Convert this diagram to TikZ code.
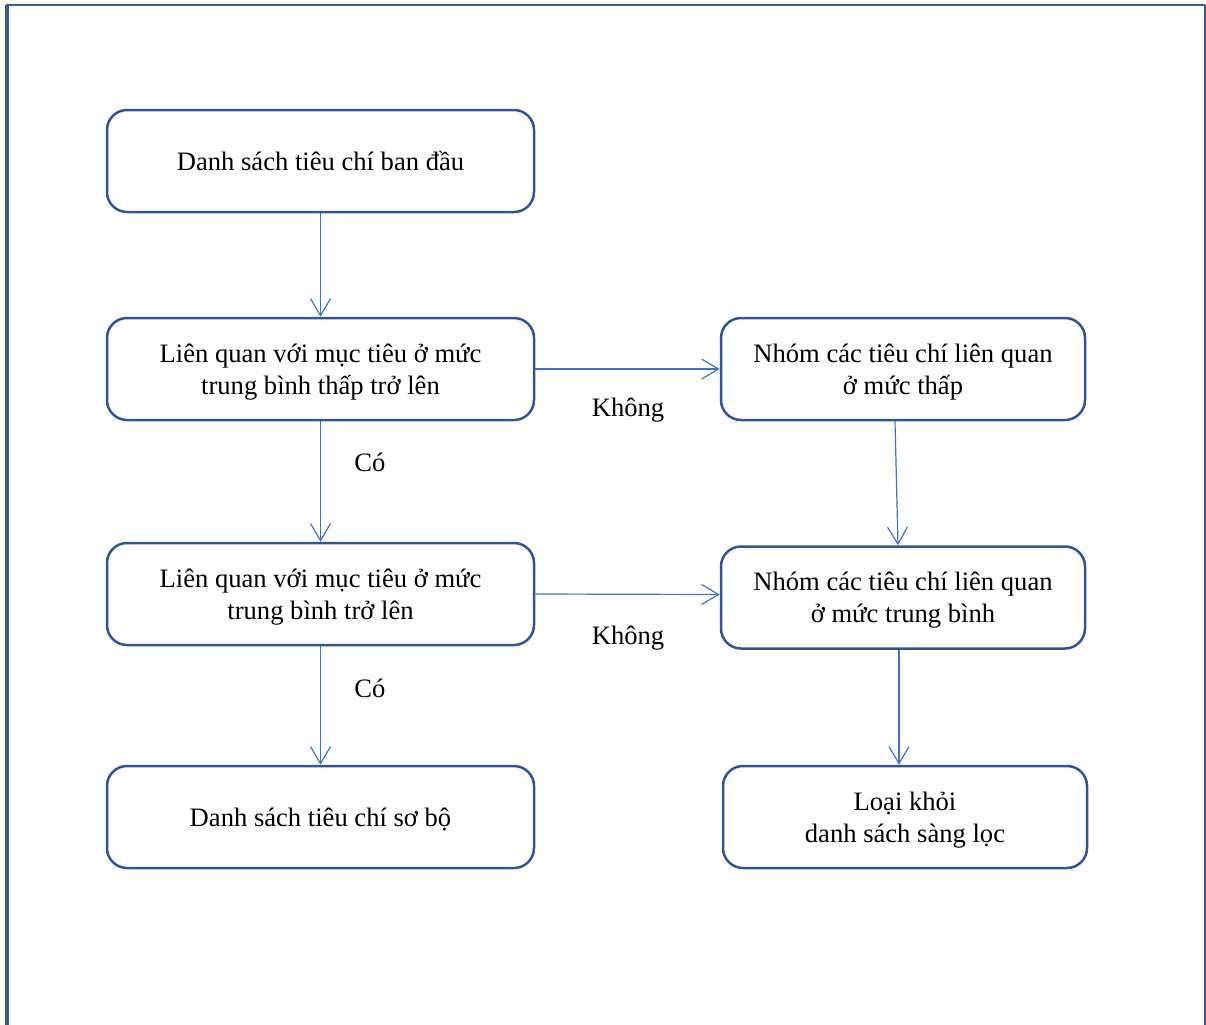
\documentclass[tikz,border=0pt]{standalone}
\usepackage{fontspec}
\setmainfont{Liberation Serif}
\usetikzlibrary{arrows.meta}
\definecolor{boxblue}{HTML}{2F5597}
\definecolor{arrblue}{HTML}{4472C4}
\definecolor{frameblue}{HTML}{3A5A95}
\newcommand\bt[1]{\raisebox{-1.4pt}[\height][\depth]{\begin{tabular}{@{}c@{}}#1\end{tabular}}}
\begin{document}
\begin{tikzpicture}[x=0.5pt,y=-0.5pt,
  box/.style={draw=boxblue,line width=1.25pt,rounded corners=10pt,
    minimum height=51pt,inner sep=2pt,
    font=\fontsize{13.3}{16}\selectfont},
  lbox/.style={box,minimum width=213.5pt},
  rbox/.style={box,minimum width=182pt},
  conn/.style={draw=arrblue,line width=0.6pt,-{Straight Barb[length=8.5pt,width=10pt,line width=0.6pt]}},
  lab/.style={font=\fontsize{13.3}{16}\selectfont,inner sep=0pt}]
\useasboundingbox (0,0) rectangle (1206,1024);
\draw[frameblue,line width=1.6pt] (7,1026) -- (7,4.5);
\draw[frameblue,line width=1.2pt] (6,5) -- (1205,5);
\draw[frameblue,line width=0.8pt] (1205,5) -- (1205,1026);
\node[lbox] (b1) at (320.5,161) {\bt{Danh sách tiêu chí ban đầu}};
\node[lbox] (b2) at (320.5,369) {\bt{Liên quan với mục tiêu ở mức\\trung bình thấp trở lên}};
\node[lbox] (b3) at (320.5,594) {\bt{Liên quan với mục tiêu ở mức\\trung bình trở lên}};
\node[lbox] (b4) at (320.5,817) {\bt{Danh sách tiêu chí sơ bộ}};
\node[rbox] (b5) at (903,369) {\bt{Nhóm các tiêu chí liên quan\\ở mức thấp}};
\node[rbox] (b6) at (903,597.5) {\bt{Nhóm các tiêu chí liên quan\\ở mức trung bình}};
\node[rbox] (b7) at (905,817) {\bt{Loại khỏi\\danh sách sàng lọc}};
\draw[conn] (b1.south) -- (b2.north);
\draw[conn] (b2.south) -- (b3.north);
\draw[conn] (b3.south) -- (b4.north);
\draw[conn] (b2.east) -- (b5.west);
\draw[conn] (b3.east) -- ([yshift=1.5pt]b6.west);
\draw[conn] ([xshift=-4pt]b5.south) -- ([xshift=-2.5pt]b6.north);
\draw[conn] ([xshift=-2pt]b6.south) -- ([xshift=-3pt]b7.north);
\node[lab] (k1) at (628,410.5) {Không};
\node[lab] (k2) at (628,638.5) {Không};
\node[lab] (c1) at (370,462) {Có};
\node[lab] (c2) at (370,688) {Có};
\end{tikzpicture}
\end{document}
